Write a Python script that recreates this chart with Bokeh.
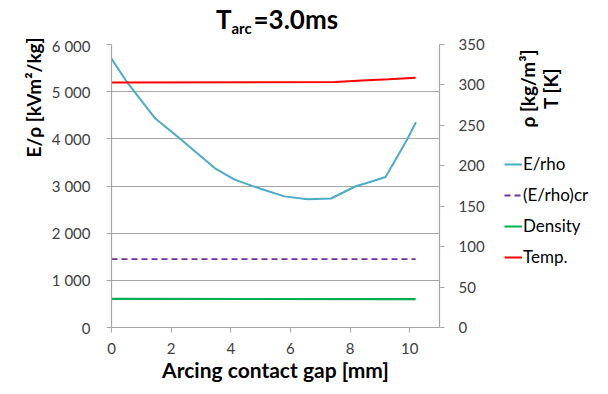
import math
from bokeh.plotting import figure
from bokeh.layouts import column, row
from bokeh.models import Range1d, LinearAxis, FixedTicker, Legend, LegendItem
from bokeh.core.properties import value
from bokeh.embed import file_html
from bokeh.resources import INLINE

# ---- data ----
gap_e = [0, 0.52, 1.47, 2.3, 3.47, 4.13, 5.02, 5.8, 6.58, 7.36, 8.19, 8.75, 9.19, 9.91, 10.21]
e_rho = [5700, 5200, 4430, 4000, 3375, 3135, 2935, 2780, 2720, 2735, 2995, 3100, 3190, 3980, 4350]
gap_cr = [0, 10.2]
e_rho_cr = [1450, 1450]
gap_d = [0, 9.3, 10.2]
density = [35.3, 35.2, 35.0]
gap_t = [0, 7.5, 8.4, 9.3, 10.2]
temp = [303.0, 303.5, 305.5, 307.0, 309.0]

left_ticks = [0, 1000, 2000, 3000, 4000, 5000, 6000]
left_tick_labels = ["0", "1 000", "2 000", "3 000", "4 000", "5 000", "6 000"]
right_ticks = [0, 50, 100, 150, 200, 250, 300, 350]
x_ticks = [0, 2, 4, 6, 8, 10]

series_names = ["E/rho", "(E/rho)cr", "Density", "Temp."]
series_colors = ["#4bacc6", "#7030a0", "#00b050", "#ff0000"]
series_dash = ["solid", "6 4", "solid", "solid"]

FONT = "Lato"
GRAY = "#a6a6a6"
TXT = "#404040"

TOP_H = 36
ROW_H = 350
LEFT_W = 48
RIGHT_W = 110
MAIN_W = 600 - LEFT_W - RIGHT_W


def no_align(f):
    try:
        f.frame_align = False
    except AttributeError:
        pass
    return f


def text_fig(w, h, x0, y0):
    f = figure(width=w, height=h, output_backend="svg", toolbar_location=None, title=None,
               x_range=Range1d(x0, x0 + w), y_range=Range1d(y0 + h, y0),
               x_axis_location=None, y_axis_location=None, min_border=0)
    f.grid.visible = False
    f.outline_line_color = None
    return no_align(f)


bold = dict(text_font=value(FONT), text_font_style="bold", text_color="#000000")

# ---- title ----
top = text_fig(600, TOP_H, 0, 0)
top.text(x=[231], y=[18], text=["T"], text_align="right", text_baseline="middle",
         text_font_size="26px", **bold)
top.text(x=[231], y=[27], text=["arc"], text_align="left", text_baseline="middle",
         text_font_size="15px", **bold)
top.text(x=[253], y=[18], text=["=3.0ms"], text_align="left", text_baseline="middle",
         text_font_size="26px", **bold)

# ---- left axis title ----
left = text_fig(LEFT_W, ROW_H, 0, TOP_H)
left.text(x=[33], y=[97], text=["E/ρ [kVm²/kg]"], angle=math.pi / 2, text_align="center",
          text_baseline="middle", text_font_size="19px", **bold)

# ---- main plot ----
p = figure(width=MAIN_W, height=ROW_H, output_backend="svg", toolbar_location=None,
           x_range=Range1d(0, 11), y_range=Range1d(0, 6000),
           min_border_left=109 - LEFT_W, min_border_right=51, min_border_top=8, min_border_bottom=59)
no_align(p)
p.extra_y_ranges = {"right": Range1d(0, 350)}
p.outline_line_color = None
p.xgrid.grid_line_color = None
p.ygrid.grid_line_color = GRAY
p.ygrid.grid_line_width = 1.2
p.ygrid.ticker = FixedTicker(ticks=left_ticks)

for ax in (p.xaxis[0], p.yaxis[0]):
    ax.axis_line_color = GRAY
    ax.axis_line_width = 1.2
    ax.major_tick_line_color = GRAY
    ax.major_tick_in = 0
    ax.major_tick_out = 5
    ax.minor_tick_line_color = None
    ax.major_label_text_font = FONT
    ax.major_label_text_font_size = "15px"
    ax.major_label_text_color = TXT

p.xaxis.major_label_standoff = 10
p.yaxis.major_label_standoff = 16
p.xaxis.ticker = FixedTicker(ticks=x_ticks)
p.xaxis.axis_label = "Arcing contact gap [mm]"
p.xaxis.axis_label_text_font = FONT
p.xaxis.axis_label_text_font_style = "bold"
p.xaxis.axis_label_text_font_size = "21px"
p.xaxis.axis_label_text_color = "#000000"
p.xaxis.axis_label_standoff = 0

p.yaxis.ticker = FixedTicker(ticks=left_ticks)
p.yaxis.major_label_overrides = dict(zip(left_ticks, left_tick_labels))

rax = LinearAxis(y_range_name="right", ticker=FixedTicker(ticks=right_ticks))
rax.axis_line_color = GRAY
rax.axis_line_width = 1.2
rax.major_tick_line_color = GRAY
rax.major_tick_in = 0
rax.major_tick_out = 5
rax.minor_tick_line_color = None
rax.major_label_text_font = FONT
rax.major_label_text_font_size = "15px"
rax.major_label_text_color = TXT
rax.major_label_standoff = 14
p.add_layout(rax, "right")

p.line(gap_e, e_rho, line_color=series_colors[0], line_width=2)
p.line(gap_cr, e_rho_cr, line_color=series_colors[1], line_width=1.8, line_dash=series_dash[1])
p.line(gap_d, density, line_color=series_colors[2], line_width=2.2, y_range_name="right")
p.line(gap_t, temp, line_color=series_colors[3], line_width=2, y_range_name="right")

# ---- right side: axis titles and legend ----
right = text_fig(RIGHT_W, ROW_H, 600 - RIGHT_W, TOP_H)
right.text(x=[527], y=[88], text=["ρ [kg/m³]"], angle=math.pi / 2, text_align="center",
           text_baseline="middle", text_font_size="19px", **bold)
right.text(x=[550], y=[88], text=["T [K]"], angle=math.pi / 2, text_align="center",
           text_baseline="middle", text_font_size="19px", **bold)

# legend keys: the same series, drawn in this panel's pixel ranges (they fall outside it)
series_x = [gap_e, gap_cr, gap_d, gap_t]
series_y = [e_rho, e_rho_cr, density, temp]
items = []
for name, col, dash, xs, ys in zip(series_names, series_colors, series_dash, series_x, series_y):
    r = right.line(x=xs, y=ys, line_color=col, line_width=2, line_dash=dash)
    items.append(LegendItem(label=name, renderers=[r]))
legend = Legend(items=items, location=(14, 119), padding=0, margin=0, spacing=10,
                glyph_width=18, glyph_height=20, label_standoff=1,
                label_text_font=FONT, label_text_font_size="17px", label_text_color="#000000",
                border_line_color=None, background_fill_alpha=0)
right.add_layout(legend, "center")

layout = column(top, row(left, p, right, spacing=0), spacing=0)
open("out.html", "w").write(file_html(layout, INLINE))
